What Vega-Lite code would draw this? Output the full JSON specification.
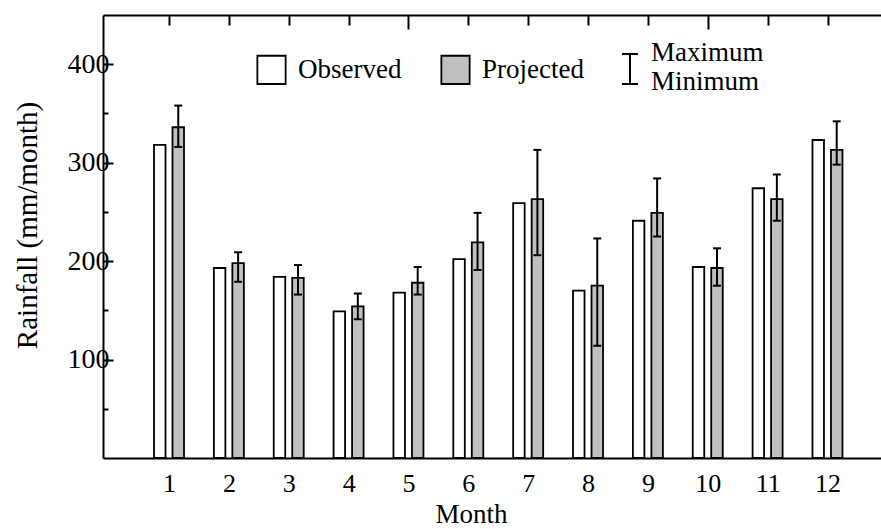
{
  "$schema": "https://vega.github.io/schema/vega-lite/v6.json",
  "autosize": "none",
  "width": 778,
  "height": 443,
  "padding": {"left": 103, "top": 15, "right": 0, "bottom": 71},
  "background": "white",
  "config": {
    "view": {"stroke": null},
    "font": "Liberation Serif",
    "axis": {
      "domainColor": "black",
      "domainWidth": 2,
      "tickColor": "black",
      "tickWidth": 2,
      "labelColor": "black",
      "labelFont": "Liberation Serif",
      "labelFontSize": 26,
      "titleFont": "Liberation Serif",
      "titleFontSize": 27,
      "titleFontWeight": "normal",
      "titleColor": "black",
      "grid": false
    },
    "legend": {
      "labelFont": "Liberation Serif",
      "labelFontSize": 27,
      "labelColor": "black",
      "padding": 0
    }
  },
  "data": {
    "values": [
      {"month": 1, "series": "Observed", "rain": 318},
      {"month": 1, "series": "Projected", "rain": 336, "min": 316, "max": 358},
      {"month": 2, "series": "Observed", "rain": 193},
      {"month": 2, "series": "Projected", "rain": 198, "min": 179, "max": 209},
      {"month": 3, "series": "Observed", "rain": 184},
      {"month": 3, "series": "Projected", "rain": 183, "min": 166, "max": 196},
      {"month": 4, "series": "Observed", "rain": 149},
      {"month": 4, "series": "Projected", "rain": 154, "min": 141, "max": 167},
      {"month": 5, "series": "Observed", "rain": 168},
      {"month": 5, "series": "Projected", "rain": 178, "min": 166, "max": 194},
      {"month": 6, "series": "Observed", "rain": 202},
      {"month": 6, "series": "Projected", "rain": 219, "min": 191, "max": 249},
      {"month": 7, "series": "Observed", "rain": 259},
      {"month": 7, "series": "Projected", "rain": 263, "min": 206, "max": 313},
      {"month": 8, "series": "Observed", "rain": 170},
      {"month": 8, "series": "Projected", "rain": 175, "min": 114, "max": 223},
      {"month": 9, "series": "Observed", "rain": 241},
      {"month": 9, "series": "Projected", "rain": 249, "min": 225, "max": 284},
      {"month": 10, "series": "Observed", "rain": 194},
      {"month": 10, "series": "Projected", "rain": 193, "min": 175, "max": 213},
      {"month": 11, "series": "Observed", "rain": 274},
      {"month": 11, "series": "Projected", "rain": 263, "min": 241, "max": 288},
      {"month": 12, "series": "Observed", "rain": 323},
      {"month": 12, "series": "Projected", "rain": 313, "min": 298, "max": 342}
    ]
  },
  "layer": [
    {
      "transform": [{"filter": "datum.series === 'Observed'"}],
      "mark": {"type": "bar", "width": 11.5, "xOffset": -9.3, "stroke": "black", "strokeWidth": 1.8},
      "encoding": {
        "x": {
          "field": "month", "type": "quantitative",
          "scale": {"domain": [-0.02, 12.81], "nice": false, "zero": false},
          "axis": {
            "orient": "bottom", "title": "Month", "values": [1,2,3,4,5,6,7,8,9,10,11,12],
            "ticks": false, "labelPadding": 12, "titlePadding": 5,
            "titleX": 368, "titleAnchor": "middle"
          }
        },
        "y": {
          "field": "rain", "type": "quantitative",
          "scale": {"domain": [0, 450], "nice": false},
          "axis": {
            "orient": "left", "title": "Rainfall (mm/month)",
            "values": [50,100,150,200,250,300,350,400],
            "tickSize": {"condition": {"test": "datum.value % 100 === 0", "value": -10}, "value": -5},
            "labelExpr": "datum.value % 100 === 0 ? datum.label : ''",
            "labelFontSize": 28,
            "labelPadding": 4, "titlePadding": 25, "titleFontSize": 29,
            "titleY": 210
          }
        },
        "fill": {
          "field": "series", "type": "nominal",
          "scale": {"domain": ["Observed", "Projected"], "range": ["white", "#c0c0c0"]},
          "legend": {
            "title": null, "orient": "none", "direction": "horizontal",
            "legendX": 153, "legendY": 39,
            "symbolType": "square", "symbolSize": 800,
            "symbolStrokeColor": "black", "symbolStrokeWidth": 1.8, "symbolOpacity": 1,
            "labelOffset": 11, "columnPadding": 35
          }
        }
      }
    },
    {
      "transform": [{"filter": "datum.series === 'Projected'"}],
      "mark": {"type": "bar", "width": 11.5, "xOffset": 9.2, "stroke": "black", "strokeWidth": 1.8},
      "encoding": {
        "x": {
          "field": "month", "type": "quantitative",
          "axis": {
            "orient": "top", "title": null, "labels": false,
            "values": [1,2,3,4,5,6,7,8,9,10,11,12],
            "tickSize": {"condition": {"test": "datum.value === 5 || datum.value === 10", "value": -14}, "value": -10}
          }
        },
        "y": {"field": "rain", "type": "quantitative"},
        "fill": {"field": "series", "type": "nominal"}
      }
    },
    {
      "transform": [{"filter": "datum.series === 'Projected'"}],
      "mark": {"type": "rule", "xOffset": 9.2, "color": "black", "strokeWidth": 2},
      "encoding": {
        "x": {"field": "month", "type": "quantitative", "axis": null},
        "y": {"field": "min", "type": "quantitative"},
        "y2": {"field": "max"}
      }
    },
    {
      "transform": [{"filter": "datum.series === 'Projected'"}],
      "mark": {"type": "tick", "orient": "horizontal", "xOffset": 9.2, "color": "black", "size": 8, "thickness": 2, "opacity": 1},
      "encoding": {
        "x": {"field": "month", "type": "quantitative", "axis": null},
        "y": {"field": "max", "type": "quantitative"}
      }
    },
    {
      "transform": [{"filter": "datum.series === 'Projected'"}],
      "mark": {"type": "tick", "orient": "horizontal", "xOffset": 9.2, "color": "black", "size": 8, "thickness": 2, "opacity": 1},
      "encoding": {
        "x": {"field": "month", "type": "quantitative", "axis": null},
        "y": {"field": "min", "type": "quantitative"}
      }
    },
    {
      "transform": [{"filter": "datum.series === 'Projected'"}],
      "mark": {"type": "point", "filled": false, "color": "black", "size": 0, "strokeWidth": 2},
      "encoding": {
        "x": {"field": "month", "type": "quantitative", "axis": null},
        "y": {"field": "rain", "type": "quantitative"},
        "shape": {
          "datum": "Maximum|Minimum",
          "scale": {"range": ["M-0.53,0.07H0.53M0,0.07V2.07M-0.53,2.07H0.53"]},
          "legend": {
            "title": null, "orient": "none", "legendX": 511, "legendY": 22,
            "symbolSize": 900, "symbolStrokeColor": "black", "symbolStrokeWidth": 2,
            "symbolFillColor": "transparent", "symbolOpacity": 1,
            "labelOffset": 5,
            "labelExpr": "split(datum.label, '|')"
          }
        }
      }
    }
  ]
}
